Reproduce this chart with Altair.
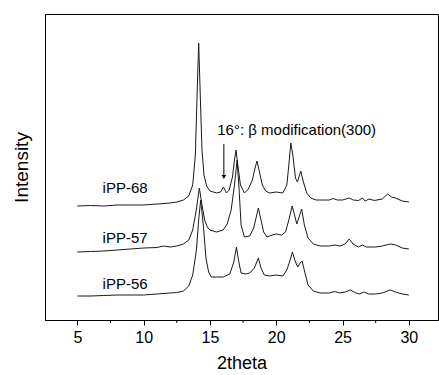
import altair as alt
import pandas as pd

# iPP-68
x68 = [5.0, 6.0, 7.0, 8.0, 9.0, 10.0, 11.0, 12.0, 12.5, 13.0, 13.4, 13.7, 13.9, 14.02, 14.15, 14.27, 14.4, 14.55, 14.75, 15.0,
       15.5, 15.8, 16.02, 16.25, 16.45, 16.7, 16.85, 16.97, 17.1, 17.3, 17.6, 17.9, 18.2, 18.4, 18.55, 18.7, 18.95, 19.2, 19.5, 20.0,
       20.5, 20.8, 20.95, 21.1, 21.25, 21.45, 21.6, 21.85, 22.05, 22.3, 22.6, 23.0, 23.5, 24.0, 24.3, 24.6, 25.0, 25.5, 25.8, 26.2,
       26.5, 26.7, 27.0, 27.4, 28.0, 28.4, 28.7, 29.0, 29.5, 30.0]
y68 = [114, 114.5, 114, 115, 115, 115, 116, 117, 118, 120, 124, 135, 165, 220, 277, 225, 170, 145, 134, 129,
       127, 128, 133, 127, 130, 143, 160, 170, 155, 135, 127, 131, 140, 152, 159, 150, 135, 129, 127, 128,
       127, 135, 155, 177, 165, 142, 138, 149, 138, 127, 122, 120, 120, 120, 121.5, 120, 120, 122, 120, 119.5,
       122, 119, 121, 119.5, 121, 126, 123, 122, 119, 118]

# iPP-57
x57 = [5.0, 6.0, 7.0, 8.0, 9.0, 10.0, 11.0, 11.5, 12.0, 12.5, 13.0, 13.4, 13.7, 13.97, 14.2, 14.4, 14.6, 14.8, 15.0, 15.5,
       16.0, 16.3, 16.6, 16.85, 17.05, 17.2, 17.35, 17.6, 18.0, 18.3, 18.65, 18.85, 19.05, 19.3, 19.7, 20.0, 20.4, 20.7, 20.95, 21.2,
       21.4, 21.55, 21.75, 21.92, 22.12, 22.4, 22.8, 23.3, 24.0, 24.4, 24.8, 25.2, 25.5, 25.8, 26.2, 26.5, 26.8, 27.5, 28.0, 28.6,
       29.0, 29.5, 30.0]
y57 = [68, 68.5, 69, 70, 71, 72, 72.5, 74, 73, 74, 76, 80, 90, 110, 132, 115, 100, 93, 90, 88,
       90, 96, 110, 135, 160, 130, 95, 83, 84, 92, 112, 100, 88, 83, 85, 86, 85, 88, 100, 114,
       104, 96, 104, 111, 95, 82, 76, 74, 74, 75, 74, 76, 81, 76, 73, 75, 73, 73, 74, 76,
       75, 72, 71]

# iPP-56
x56 = [5.0, 6.0, 7.0, 8.0, 9.0, 10.0, 11.0, 12.0, 12.5, 13.0, 13.4, 13.7, 13.98, 14.15, 14.3, 14.5, 14.7, 14.9, 15.1, 15.5,
       16.0, 16.5, 16.8, 17.0, 17.15, 17.35, 17.7, 18.0, 18.35, 18.65, 18.85, 19.1, 19.5, 20.0, 20.5, 20.8, 21.05, 21.22, 21.45, 21.62,
       21.8, 21.95, 22.15, 22.4, 22.8, 23.3, 24.0, 24.4, 24.8, 25.2, 25.6, 26.0, 26.3, 26.6, 27.0, 27.5, 28.0, 28.6, 29.0, 29.5,
       30.0]
y56 = [24, 24, 24.5, 25, 25, 25, 26, 27, 27.5, 29, 34, 45, 70, 100, 120, 95, 62, 48, 43, 43,
       43, 46, 58, 73, 60, 47, 46, 47, 52, 62, 52, 45, 44, 45, 44, 50, 60, 68, 58, 53,
       57, 59, 48, 35, 29, 27, 27, 28.5, 27, 28, 30, 27, 26, 28, 26, 26, 27, 30, 28, 26,
       25]

series_names = ["iPP-68", "iPP-57", "iPP-56"]
label_x = [6.9, 6.9, 6.9]
label_y = [132, 82, 36]

major_ticks = [5, 10, 15, 20, 25, 30]
minor_ticks = [7.5, 12.5, 17.5, 22.5, 27.5]

annot_text = ["16°: β modification(300)"]
annot_x = [15.55]
annot_y = [190]
arrow_x = [16.05]
arrow_top = [176]
arrow_bottom = [143]

rows = []
for name, xs, ys in zip(series_names, [x68, x57, x56], [y68, y57, y56]):
    for a, b in zip(xs, ys):
        rows.append({"series": name, "x": a, "y": b})
df = pd.DataFrame(rows)

xscale = alt.Scale(domain=[2.56, 32.2], nice=False, zero=False)
yscale = alt.Scale(domain=[0, 306], nice=False, zero=False)
FONT = "Liberation Sans"

lines = alt.Chart(df).mark_line(color="#1a1a1a", strokeWidth=1, clip=True).encode(
    x=alt.X("x:Q", scale=xscale, title="2theta",
            axis=alt.Axis(values=major_ticks, grid=False, domain=True, domainColor="black",
                          tickColor="black", tickSize=5, labelFontSize=16, labelFont=FONT,
                          labelColor="black", labelPadding=4, titleFont=FONT, titleFontSize=18,
                          titleFontWeight="normal", titleColor="black", titlePadding=9, format="d")),
    y=alt.Y("y:Q", scale=yscale, title="Intensity",
            axis=alt.Axis(labels=False, ticks=False, grid=False, domain=True, domainColor="black",
                          titleFont=FONT, titleFontSize=19, titleFontWeight="normal",
                          titleColor="black", titlePadding=14)),
    detail="series:N",
)

lab_df = pd.DataFrame({"name": series_names, "x": label_x, "y": label_y})
labels = alt.Chart(lab_df).mark_text(align="left", baseline="middle", fontSize=15, font=FONT,
                                     color="black").encode(
    x=alt.X("x:Q", scale=xscale), y=alt.Y("y:Q", scale=yscale), text="name:N")

ann_df = pd.DataFrame({"t": annot_text, "x": annot_x, "y": annot_y})
annot = alt.Chart(ann_df).mark_text(align="left", baseline="middle", fontSize=15, font=FONT,
                                    color="black").encode(
    x=alt.X("x:Q", scale=xscale), y=alt.Y("y:Q", scale=yscale), text="t:N")

arr_df = pd.DataFrame({"x": arrow_x, "y": arrow_top, "y2": arrow_bottom})
arrow_line = alt.Chart(arr_df).mark_rule(color="black", strokeWidth=1).encode(
    x=alt.X("x:Q", scale=xscale), y=alt.Y("y:Q", scale=yscale), y2="y2:Q")
arrow_head = alt.Chart(arr_df).mark_point(shape="triangle-down", filled=True, color="black",
                                          size=22, opacity=1).encode(
    x=alt.X("x:Q", scale=xscale), y=alt.Y("y2:Q", scale=yscale))

minor_df = pd.DataFrame({"x": minor_ticks})
minor = alt.Chart(minor_df).mark_rule(color="black", strokeWidth=1, clip=False).encode(
    x=alt.X("x:Q", scale=xscale), y=alt.value(306), y2=alt.value(309))

chart = alt.layer(lines, labels, annot, arrow_line, arrow_head, minor).properties(
    width=393, height=306,
    autosize=alt.AutoSizeParams(type="none"),
    padding={"left": 45, "top": 14, "right": 1, "bottom": 55},
    background="white",
).configure_view(stroke="black", strokeWidth=1)

chart.save("out.html", embed_options={"renderer": "svg", "actions": False})
